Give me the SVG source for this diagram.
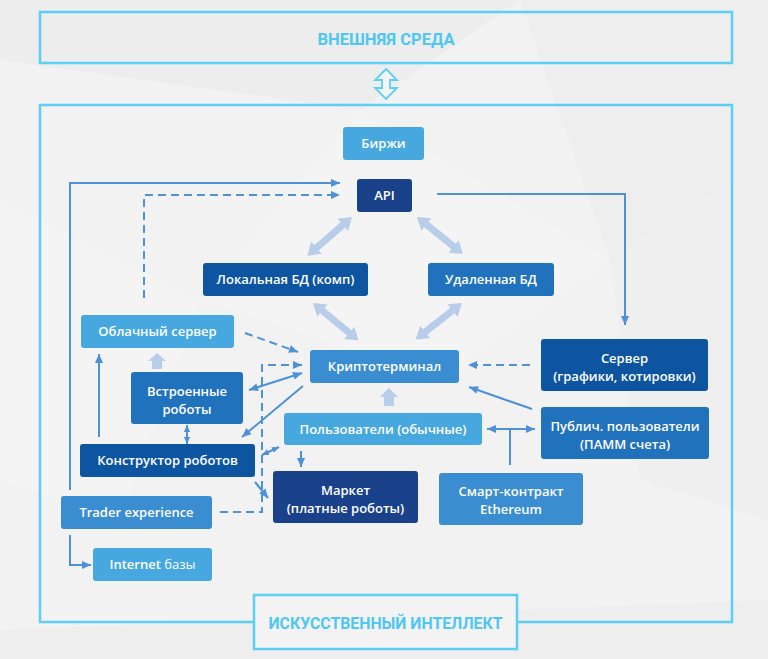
<svg xmlns="http://www.w3.org/2000/svg" width="768" height="659" viewBox="0 0 768 659">
<style>
.bg{fill:#f2f2f2}
.frame{fill:none;stroke:#5ccff5;stroke-width:2.5}
.ftext{font-family:Roboto,"Liberation Sans",sans-serif;font-weight:700;font-size:17px;fill:#4fc6f4;text-anchor:middle}
.n rect{rx:3;ry:3}
.n text{font-family:"Open Sans","Liberation Sans",sans-serif;font-weight:600;font-size:13px;fill:#ffffff;text-anchor:middle}
.c1{fill:#46a8df}
.c2{fill:#3a8dd0}
.c3{fill:#2172bd}
.c4{fill:#0d55a1}
.c5{fill:#1a428a}
.ln{fill:none;stroke:#4e91d6;stroke-width:2}
.dash{stroke-dasharray:8 5}
.thick{fill:#b7cde9}
</style>
<defs>
<marker id="ah" viewBox="0 0 10 10" refX="10" refY="5" markerWidth="10" markerHeight="9" markerUnits="userSpaceOnUse" orient="auto-start-reverse"><path d="M0,0.5 L10,5 L0,9.5 Z" fill="#4e91d6"/></marker>
<marker id="ahs" viewBox="0 0 10 10" refX="10" refY="5" markerWidth="7" markerHeight="7" markerUnits="userSpaceOnUse" orient="auto-start-reverse"><path d="M0,0.5 L10,5 L0,9.5 Z" fill="#4e91d6"/></marker>
<path id="dbl" d="M0,0 L12,-8 L12,-3.5 L47,-3.5 L47,-8 L59,0 L47,8 L47,3.5 L12,3.5 L12,8 Z"/>
</defs>
<rect class="bg" x="0" y="0" width="768" height="659"/>
<g id="background" opacity="0.35">
<polygon points="0,0 520,0 360,110 0,60" fill="#e6e6e6"/>
<polygon points="520,0 768,0 768,160 610,260" fill="#e9e9e9"/>
<polygon points="360,110 610,260 440,380 200,300" fill="#f8f8f8"/>
<polygon points="0,200 200,300 120,520 0,480" fill="#f8f8f8"/>
<polygon points="610,260 768,160 768,520 640,480" fill="#ebebeb"/>
<polygon points="0,630 768,600 768,659 0,659" fill="#e8e8e8"/>
</g>
<g id="outer-env">
<rect class="frame" x="40" y="12" width="692" height="51"/>
<text class="ftext" x="386" y="45" textLength="137" lengthAdjust="spacingAndGlyphs">ВНЕШНЯЯ СРЕДА</text>
</g>
<g id="env-link">
<path d="M386,69 L397,80 L390,80 L390,88 L397,88 L386,99 L375,88 L382,88 L382,80 L375,80 Z" fill="#f4f4f4" stroke="#5ccff5" stroke-width="1.8" stroke-linejoin="miter"/>
</g>
<g id="main-frame">
<rect class="frame" x="40" y="105" width="692" height="517"/>
</g>
<g id="connectors">
<use href="#dbl" class="thick" transform="translate(352,217) rotate(139.1)"/>
<use href="#dbl" class="thick" transform="translate(417,217) rotate(38.8)"/>
<use href="#dbl" class="thick" transform="translate(313,303) rotate(39.4)"/>
<use href="#dbl" class="thick" transform="translate(462,303) rotate(141.8)"/>
<path class="thick" d="M157,353 L166,361 L162,361 L162,369 L152,369 L152,361 L148,361 Z"/>
<path class="thick" d="M389,388 L398,397 L394,397 L394,406 L384,406 L384,397 L380,397 Z"/>
<path class="ln" d="M70,490 V183 H340" marker-end="url(#ah)"/>
<path class="ln dash" d="M144,298 V195 H340" marker-end="url(#ah)"/>
<path class="ln" d="M437,194 H625 V325" marker-end="url(#ah)"/>
<path class="ln dash" d="M245,333 L298,352" marker-end="url(#ah)"/>
<path class="ln dash" d="M220,512 H262 V365 H302" marker-end="url(#ah)"/>
<path class="ln" d="M249,390 L302,373" marker-start="url(#ah)" marker-end="url(#ah)"/>
<path class="ln" d="M303,386 L242,437" marker-end="url(#ah)"/>
<path class="ln" d="M187,425 V444" marker-start="url(#ahs)" marker-end="url(#ahs)"/>
<path class="ln" d="M99,437 V354" marker-end="url(#ah)"/>
<path class="ln" d="M262,455 L279,447" marker-start="url(#ahs)" marker-end="url(#ahs)"/>
<path class="ln" d="M255,482 L268,498" marker-end="url(#ah)"/>
<path class="ln" d="M301,451 V467" marker-end="url(#ah)"/>
<path class="ln dash" d="M530,365 H468" marker-end="url(#ah)"/>
<path class="ln" d="M532,409 L469,387" marker-end="url(#ah)"/>
<path class="ln" d="M487,429 H535" marker-start="url(#ah)" marker-end="url(#ah)"/>
<path class="ln" d="M510,429 V465"/>
<path class="ln" d="M70,535 V565 H91" marker-end="url(#ah)"/>
</g>
<g id="birzhi" class="n"><rect class="c1" x="343" y="127" width="81" height="33"/><text x="383.5" y="148">Биржи</text></g>
<g id="api" class="n"><rect class="c5" x="357" y="179" width="55" height="33"/><text x="384.5" y="200">API</text></g>
<g id="local-db" class="n"><rect class="c4" x="203" y="263" width="165" height="33"/><text x="285.5" y="284">Локальная БД (комп)</text></g>
<g id="remote-db" class="n"><rect class="c3" x="428" y="263" width="126" height="33"/><text x="491" y="284">Удаленная БД</text></g>
<g id="cloud-server" class="n"><rect class="c1" x="81" y="315" width="153" height="33"/><text x="157.5" y="336">Облачный сервер</text></g>
<g id="cryptoterminal" class="n"><rect class="c2" x="310" y="350" width="149" height="33"/><text x="384.5" y="371">Криптотерминал</text></g>
<g id="server" class="n"><rect class="c4" x="541" y="339" width="167" height="52"/><text x="624.5" y="363">Сервер</text><text x="624.5" y="381">(графики, котировки)</text></g>
<g id="builtin-robots" class="n"><rect class="c3" x="131" y="372" width="112" height="52"/><text x="187" y="396">Встроенные</text><text x="187" y="414">роботы</text></g>
<g id="users" class="n"><rect class="c1" x="284" y="413" width="198" height="32"/><text x="383" y="434">Пользователи (обычные)</text></g>
<g id="public-users" class="n"><rect class="c3" x="541" y="407" width="168" height="52"/><text x="625" y="431">Публич. пользователи</text><text x="625" y="449">(ПАММ счета)</text></g>
<g id="robot-builder" class="n"><rect class="c4" x="80" y="444" width="175" height="33"/><text x="167.5" y="465">Конструктор роботов</text></g>
<g id="market" class="n"><rect class="c5" x="273" y="471" width="145" height="52"/><text x="345.5" y="495">Маркет</text><text x="345.5" y="513">(платные роботы)</text></g>
<g id="smart-contract" class="n"><rect class="c2" x="439" y="473" width="144" height="52"/><text x="511" y="496">Смарт-контракт</text><text x="511" y="514">Ethereum</text></g>
<g id="trader-experience" class="n"><rect class="c2" x="61" y="496" width="151" height="33"/><text x="136.5" y="517">Trader experience</text></g>
<g id="internet-bases" class="n"><rect class="c1" x="93" y="548" width="119" height="33"/><text x="152.5" y="569">Internet <tspan font-weight="400">базы</tspan></text></g>
<g id="ai">
<rect x="254" y="595" width="263" height="54" fill="#f3f3f3" stroke="#5ccff5" stroke-width="2.5"/>
<text class="ftext" x="385.5" y="629" textLength="234" lengthAdjust="spacingAndGlyphs">ИСКУССТВЕННЫЙ ИНТЕЛЛЕКТ</text>
</g>
</svg>
